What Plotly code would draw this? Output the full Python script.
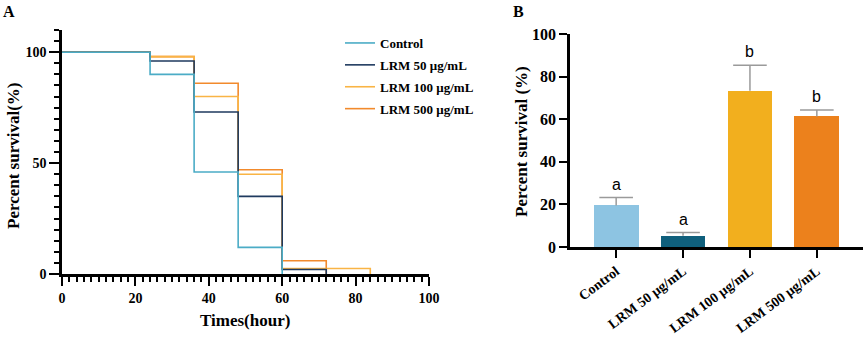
import plotly.graph_objects as go

# ---------- Panel A data (Kaplan-Meier steps) ----------
groups = ["Control", "LRM 50 μg/mL", "LRM 100 μg/mL", "LRM 500 μg/mL"]
time_control = [0, 24, 36, 48, 60]
surv_control = [100, 90, 46, 12, 0]
time_lrm50 = [0, 24, 36, 48, 60, 72]
surv_lrm50 = [100, 96, 73, 35, 2, 0]
time_lrm100 = [0, 24, 36, 48, 60, 84]
surv_lrm100 = [100, 98, 80, 45, 2.5, 0]
time_lrm500 = [0, 24, 36, 48, 60, 72]
surv_lrm500 = [100, 98, 86, 47, 6, 0]
line_colors = ["#4BACC6", "#1F3A5F", "#F9B445", "#F28A2C"]

# ---------- Panel B data ----------
bar_values = [19.5, 5.3, 73.3, 61.3]
bar_errors = [3.7, 1.5, 12.0, 3.0]
bar_letters = ["a", "a", "b", "b"]
bar_colors = ["#8DC4E2", "#0F5F7C", "#F2AF1E", "#EC811C"]

W, H = 865, 350
serif = "Liberation Serif"

fig = go.Figure()

series = [
    (time_control, surv_control),
    (time_lrm50, surv_lrm50),
    (time_lrm100, surv_lrm100),
    (time_lrm500, surv_lrm500),
]
# draw in reverse so Control is on top; legendrank keeps legend order
for i in reversed(range(4)):
    t, s = series[i]
    fig.add_trace(go.Scatter(
        x=t, y=s, mode="lines", line_shape="hv",
        line=dict(color=line_colors[i], width=1.6),
        name=groups[i], legendgroup="g%d" % i, legendrank=i + 1,
        xaxis="x", yaxis="y", showlegend=True,
    ))

fig.add_trace(go.Bar(
    x=groups, y=bar_values, marker=dict(color=bar_colors, line=dict(width=0)),
    width=0.67, xaxis="x2", yaxis="y2", showlegend=False,
))
# error stems (upper only, no caps)
fig.add_trace(go.Scatter(
    x=groups, y=bar_values, mode="markers", marker=dict(size=1, opacity=0),
    xaxis="x2", yaxis="y2", showlegend=False, hoverinfo="skip",
    error_y=dict(type="data", array=bar_errors, arrayminus=[0]*4, symmetric=False,
                 color="#9A9A9A", thickness=1.5, width=0),
))
# caps at the top of the error bars
fig.add_trace(go.Scatter(
    x=groups, y=[v + e for v, e in zip(bar_values, bar_errors)], mode="markers",
    marker=dict(symbol="line-ew", size=24, line=dict(color="#9A9A9A", width=1.5)),
    xaxis="x2", yaxis="y2", showlegend=False, hoverinfo="skip",
))

for g, v, e, l in zip(groups, bar_values, bar_errors, bar_letters):
    fig.add_annotation(x=g, y=v + e, xref="x2", yref="y2", text=l, showarrow=False,
                       yanchor="bottom", yshift=3,
                       font=dict(family="Liberation Sans", size=16, color="black"))

def px_x(p):
    return p / W

def px_y(p):
    return 1 - p / H

def axis_common(size):
    return dict(showgrid=False, zeroline=False, showline=True, linecolor="black",
                linewidth=2.5, ticks="outside", tickcolor="black", tickwidth=2,
                automargin=False,
                tickfont=dict(family=serif, size=size, color="black", weight="bold"))

fig.update_layout(
    width=W, height=H, margin=dict(l=0, r=0, t=0, b=0, autoexpand=False),
    plot_bgcolor="white", paper_bgcolor="white",
    xaxis=dict(domain=[px_x(62), px_x(429)], range=[0, 100], dtick=20, tick0=0,
               ticklen=9, anchor="y",
               minor=dict(dtick=2, ticklen=5, tickwidth=2, ticks="outside", tickcolor="black"),
               **axis_common(14)),
    yaxis=dict(domain=[px_y(274), px_y(30)], range=[0, 110], dtick=50, tick0=0,
               ticklen=10, anchor="x",
               minor=dict(dtick=5, ticklen=5, tickwidth=2, ticks="outside", tickcolor="black"),
               **axis_common(14)),
    xaxis2=dict(domain=[px_x(570), px_x(863)], range=[-0.69, 3.69], ticklen=8,
                tickangle=-37, anchor="y2", **axis_common(14)),
    yaxis2=dict(domain=[px_y(247), px_y(34)], range=[0, 100], dtick=20, ticklen=8,
                anchor="x2", **axis_common(16)),
    legend=dict(x=px_x(340), y=px_y(28), xanchor="left", yanchor="top",
                traceorder="grouped", bgcolor="rgba(0,0,0,0)",
                font=dict(family=serif, size=13, color="black", weight="bold"),
                tracegroupgap=2),
    bargap=0,
)

def label(x, y, text, size, angle=0, family=serif):
    fig.add_annotation(x=px_x(x), y=px_y(y), xref="paper", yref="paper",
                       xanchor="center", yanchor="middle",
                       text=text, textangle=angle, showarrow=False,
                       font=dict(family=family, size=size, color="black", weight="bold"))

# titles and panel letters
label(13, 156, "Percent survival(%)", 17, -90)
label(245, 320, "Times(hour)", 17)
label(521, 142, "Percent survival (%)", 17, -90)
label(9, 11, "A", 16)
label(518, 11, "B", 16)

fig.write_html("out.html", config={"displayModeBar": False},
               post_script="document.body.style.margin='0px';")
